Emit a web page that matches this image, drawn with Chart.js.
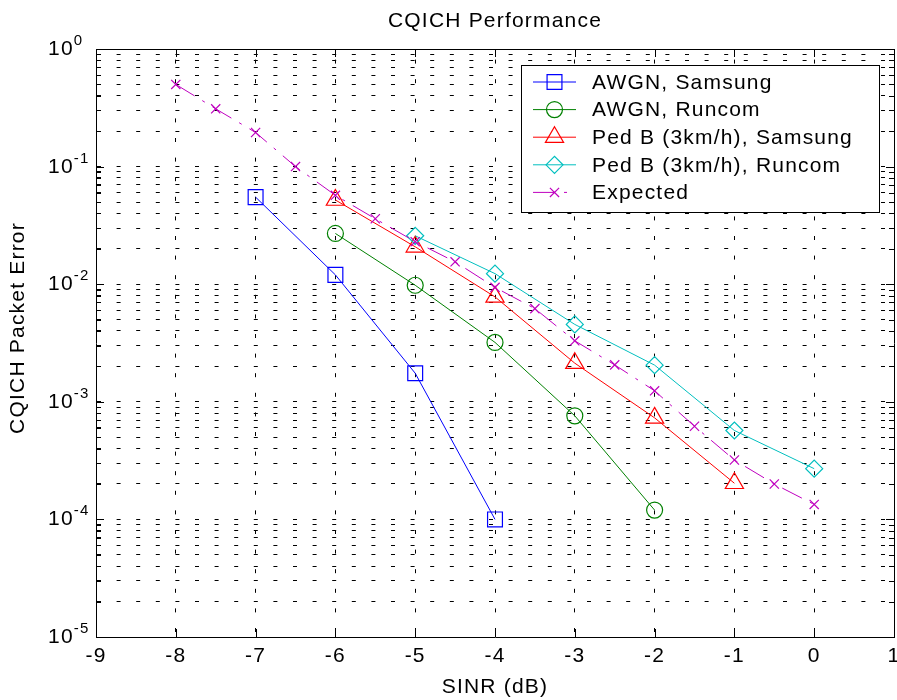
<!DOCTYPE html>
<html>
<head>
<meta charset="utf-8">
<title>CQICH Performance</title>
<script src="https://cdn.jsdelivr.net/npm/chart.js@4.4.1/dist/chart.umd.min.js"></script>
<style>html,body{margin:0;padding:0;background:#fff}canvas{display:block}</style>
</head>
<body>
<canvas id="cqich" width="897" height="700"></canvas>
<script>
/* CQICH packet error vs SINR, MATLAB-style log plot */
const xTicks=[-9,-8,-7,-6,-5,-4,-3,-2,-1,0,1];
const yExps=[-5,-4,-3,-2,-1,0];
const yMinor=[2,3,4,5,6,7,8,9];

const seriesNames=['AWGN, Samsung','AWGN, Runcom','Ped B (3km/h), Samsung','Ped B (3km/h), Runcom','Expected'];

const sinrAwgnSamsung=[-7,-6,-5,-4];
const perAwgnSamsung=[0.055,0.012,0.00175,0.0001];

const sinrAwgnRuncom=[-6,-5,-4,-3,-2];
const perAwgnRuncom=[0.027,0.0098,0.0032,0.00076,0.00012];

const sinrPedSamsung=[-6,-5,-4,-3,-2,-1];
const perPedSamsung=[0.052,0.0208,0.0078,0.00213,0.00073,0.000203];

const sinrPedRuncom=[-5,-4,-3,-2,-1,0];
const perPedRuncom=[0.0258,0.0123,0.00455,0.00205,0.00057,0.00027];

const sinrExpected=[-8,-7.5,-7,-6.5,-6,-5.5,-5,-4.5,-4,-3.5,-3,-2.5,-2,-1.5,-1,-0.5,0];
const perExpected=[0.5,0.31,0.195,0.1,0.057,0.036,0.023,0.0155,0.0094,0.0062,0.0033,0.00206,0.00124,0.00062,0.00032,0.0002,0.000134];

const yTitle='CQICH Packet Error';

const FONT='"Liberation Sans", Arial, Helvetica, sans-serif';
const clear='rgba(0,0,0,0)';

function pts(xs,ys){return xs.map((x,i)=>({x:x,y:ys[i]}));}

function series(i,xs,ys,color,style,radius,dash){
  return {label:seriesNames[i],data:pts(xs,ys),borderColor:color,backgroundColor:clear,borderWidth:1,
    borderDash:dash||[],pointStyle:style,pointRadius:radius,pointHoverRadius:radius,pointBorderWidth:1.2,
    pointBorderColor:color,pointBackgroundColor:clear,tension:0,fill:false,order:5-i};
}

// inward ticks, superscript y labels, y title and the boxed legend
const matlabAxes={
  id:'matlabAxes',
  beforeDraw(chart){chart.ctx.letterSpacing='1.2px';},
  afterDraw(chart){
    const ctx=chart.ctx,a=chart.chartArea,x=chart.scales.x,y=chart.scales.y;
    ctx.save();
    ctx.strokeStyle='#000';ctx.lineWidth=1;ctx.setLineDash([]);
    ctx.beginPath();
    xTicks.forEach(v=>{const px=Math.round(x.getPixelForValue(v))+0.5;
      ctx.moveTo(px,a.bottom);ctx.lineTo(px,a.bottom-8);ctx.moveTo(px,a.top);ctx.lineTo(px,a.top+8);});
    y.ticks.forEach(t=>{const py=Math.round(y.getPixelForValue(t.value))+0.5,len=t.major?8:5;
      ctx.moveTo(a.left,py);ctx.lineTo(a.left+len,py);ctx.moveTo(a.right,py);ctx.lineTo(a.right-len,py);});
    ctx.stroke();

    ctx.fillStyle='#000';ctx.textAlign='left';ctx.textBaseline='alphabetic';
    yExps.forEach(e=>{
      const py=y.getPixelForValue(Math.pow(10,e));
      ctx.font='21px '+FONT;ctx.fillText('10',48,py+6);
      const w=ctx.measureText('10').width;
      ctx.font='15px '+FONT;ctx.fillText(String(e),48+w,py-4);
    });

    // y axis title, a little above the axis centre as in the original
    ctx.save();
    ctx.translate(18,(a.top+a.bottom)/2-15);ctx.rotate(-Math.PI/2);
    ctx.font='21px '+FONT;ctx.textAlign='center';ctx.textBaseline='middle';
    ctx.fillText(yTitle,0,0);
    ctx.restore();

    // legend
    const L={left:521,top:65,right:879,bottom:212,row0:82,step:27.6,l1:533,l2:576,mk:554.5,tx:592};
    ctx.fillStyle='#fff';ctx.fillRect(L.left,L.top,L.right-L.left,L.bottom-L.top);
    ctx.strokeStyle='#000';ctx.lineWidth=1;ctx.strokeRect(L.left+0.5,L.top+0.5,L.right-L.left,L.bottom-L.top);
    chart.data.datasets.forEach((ds,i)=>{
      const cy=L.row0+L.step*i;
      ctx.strokeStyle=ds.borderColor;ctx.lineWidth=ds.borderWidth;ctx.setLineDash(ds.borderDash);
      ctx.beginPath();ctx.moveTo(L.l1,cy);ctx.lineTo(L.l2,cy);ctx.stroke();
      ctx.setLineDash([]);ctx.fillStyle=clear;ctx.lineWidth=ds.pointBorderWidth;
      Chart.helpers.drawPoint(ctx,{pointStyle:ds.pointStyle,radius:ds.pointRadius,rotation:0,borderWidth:ds.pointBorderWidth},L.mk,cy);
      ctx.fillStyle='#000';ctx.font='21px '+FONT;ctx.textAlign='left';ctx.textBaseline='middle';
      ctx.fillText(ds.label,L.tx,cy+1);
    });
    ctx.restore();
  }
};

const titleFont={size:21,family:FONT};

new Chart(document.getElementById('cqich'),{
  type:'line',
  data:{datasets:[
    series(0,sinrAwgnSamsung,perAwgnSamsung,'#0000ff','rect',10.5),
    series(1,sinrAwgnRuncom,perAwgnRuncom,'#008000','circle',8),
    series(2,sinrPedSamsung,perPedSamsung,'#ff0000','triangle',10.5),
    series(3,sinrPedRuncom,perPedRuncom,'#00bfbf','rectRot',8.5),
    series(4,sinrExpected,perExpected,'#bf00bf','crossRot',6.5,[22,9,3,9])
  ]},
  options:{
    responsive:false,animation:false,
    layout:{padding:0,autoPadding:false},
    plugins:{legend:{display:false},tooltip:{enabled:false},title:{display:false}},
    scales:{
      x:{type:'linear',position:'bottom',min:-9,max:1,
        afterBuildTicks(s){s.ticks=xTicks.map(v=>({value:v}));},
        afterFit(s){s.height=63;s.paddingLeft=0;s.paddingRight=0;},
        ticks:{font:{size:21,family:FONT},color:'#000',padding:7,maxRotation:0,autoSkip:false},
        grid:{color:'#000',lineWidth:1,drawTicks:false},
        border:{display:true,color:'#000',width:1,dash:[4,15.6],dashOffset:9},
        title:{display:true,text:'SINR (dB)',font:titleFont,color:'#000',padding:{top:0,bottom:0}}},
      x2:{type:'linear',position:'top',min:-9,max:1,
        afterFit(s){s.height=49;},
        ticks:{display:false},grid:{display:false,drawTicks:false},
        border:{display:true,color:'#000',width:1},
        title:{display:true,text:'CQICH Performance',font:titleFont,color:'#000',padding:{top:9,bottom:0}}},
      y:{type:'logarithmic',position:'left',min:1e-5,max:1,
        afterBuildTicks(s){
          const t=[];
          yExps.forEach(e=>{t.push({value:Math.pow(10,e),major:true});
            if(e<0)yMinor.forEach(m=>t.push({value:m*Math.pow(10,e),major:false}));});
          s.ticks=t;
        },
        afterFit(s){s.width=96;},
        ticks:{display:false},
        grid:{color:'#000',lineWidth:1,drawTicks:false},
        border:{display:true,color:'#000',width:1,dash:[4,15.6]},
        title:{display:false}},
      y2:{type:'linear',position:'right',min:0,max:1,
        afterFit(s){s.width=3;},
        ticks:{display:false},grid:{display:false,drawTicks:false},
        border:{display:true,color:'#000',width:1}}
    }
  },
  plugins:[matlabAxes]
});
</script>
</body>
</html>
